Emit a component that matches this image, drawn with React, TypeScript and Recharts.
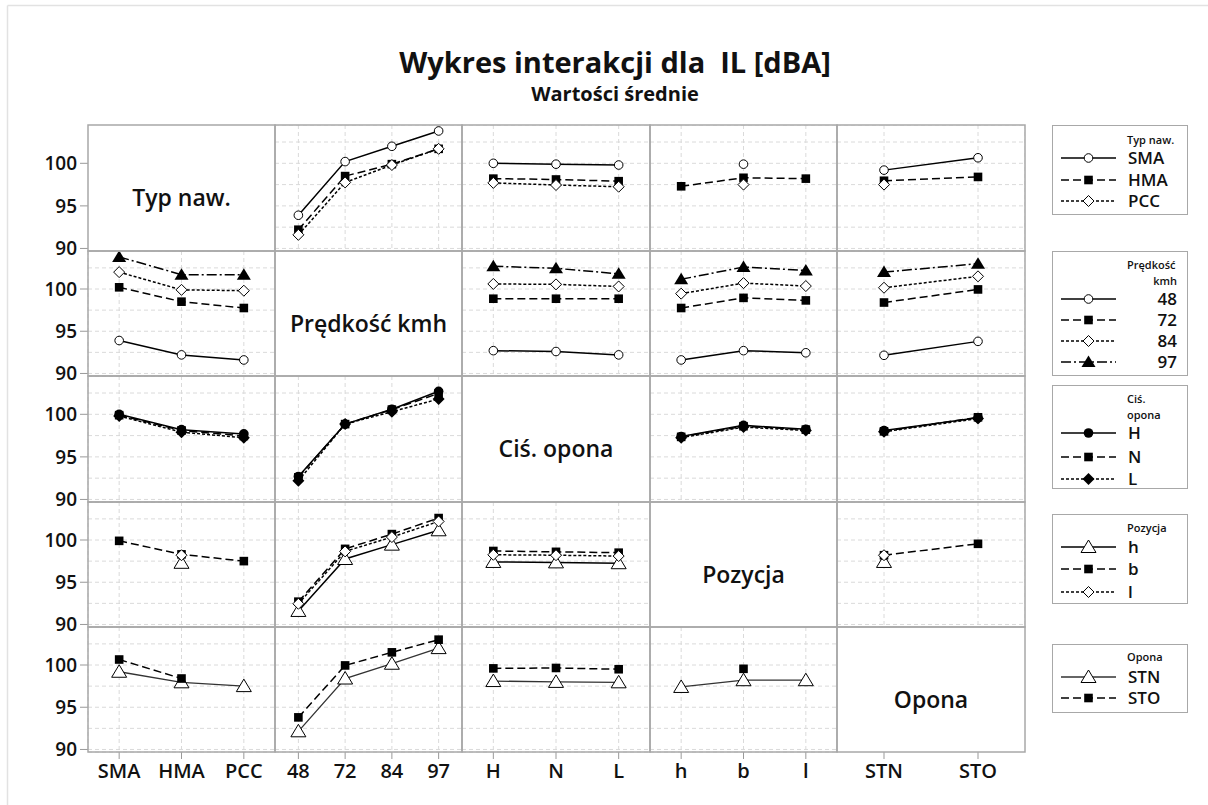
import React from 'react';
import { LineChart, Line, XAxis, YAxis, CartesianGrid } from 'recharts';

// ---------- factors ----------
const typLevels = ['SMA', 'HMA', 'PCC'];
const speedLevels = ['48', '72', '84', '97'];
const cisLevels = ['H', 'N', 'L'];
const pozLevels = ['h', 'b', 'l'];
const oponaLevels = ['STN', 'STO'];
const factorLevels = [typLevels, speedLevels, cisLevels, pozLevels, oponaLevels];
const factorNames = ['Typ naw.', 'Prędkość kmh', 'Ciś. opona', 'Pozycja', 'Opona'];
const legendTitleLines = [['Typ naw.'], ['Prędkość', 'kmh'], ['Ciś.', 'opona'], ['Pozycja'], ['Opona']];

const yTickValues = [90, 92.5, 95, 97.5, 100, 102.5];
const yDomain = [89.7, 104.5];

// ---------- cell means (rows: first factor levels, cols: second factor levels) ----------
const meanTypSpeed = [
  [93.9, 100.2, 102.0, 103.8],
  [92.2, 98.5, 99.9, 101.7],
  [91.6, 97.75, 99.8, 101.7],
];
const meanTypCis = [
  [100.0, 99.9, 99.8],
  [98.2, 98.1, 97.9],
  [97.7, 97.45, 97.25],
];
const meanTypPoz = [
  [null, 99.9, null],
  [97.3, 98.3, 98.2],
  [null, 97.5, null],
];
const meanTypOpona = [
  [99.2, 100.65],
  [97.95, 98.4],
  [97.5, null],
];
const meanSpeedCis = [
  [92.7, 92.6, 92.2],
  [98.85, 98.85, 98.85],
  [100.6, 100.55, 100.3],
  [102.7, 102.45, 101.8],
];
const meanSpeedPoz = [
  [91.6, 92.7, 92.45],
  [97.75, 98.95, 98.65],
  [99.45, 100.7, 100.35],
  [101.15, 102.6, 102.2],
];
const meanSpeedOpona = [
  [92.15, 93.8],
  [98.4, 99.95],
  [100.15, 101.5],
  [102.0, 103.0],
];
const meanCisPoz = [
  [97.4, 98.7, 98.25],
  [97.35, 98.6, 98.2],
  [97.25, 98.5, 98.1],
];
const meanCisOpona = [
  [98.1, 99.6],
  [98.0, 99.65],
  [97.95, 99.5],
];
const meanPozOpona = [
  [97.4, null],
  [98.2, 99.55],
  [98.2, null],
];

const pairTable: Record<string, (number | null)[][]> = {
  '0-1': meanTypSpeed,
  '0-2': meanTypCis,
  '0-3': meanTypPoz,
  '0-4': meanTypOpona,
  '1-2': meanSpeedCis,
  '1-3': meanSpeedPoz,
  '1-4': meanSpeedOpona,
  '2-3': meanCisPoz,
  '2-4': meanCisOpona,
  '3-4': meanPozOpona,
};

function cellMeans(rowF: number, colF: number): (number | null)[][] {
  if (rowF < colF) return pairTable[`${rowF}-${colF}`];
  const m = pairTable[`${colF}-${rowF}`];
  return factorLevels[rowF].map((_, i) => factorLevels[colF].map((__, j) => m[j][i]));
}

// ---------- styles ----------
const FONT = "'Open Sans', 'Noto Sans', sans-serif";
const colEdges = [88, 275, 462, 650, 837, 1025];
const rowEdges = [125, 251, 376, 502, 627, 752];
const factorMarkers = [
  ['circleOpen', 'square', 'diamondOpen'],
  ['circleOpen', 'square', 'diamondOpen', 'triangleFilled'],
  ['circleFilled', 'square', 'diamondFilled'],
  ['triangleOpen', 'square', 'diamondOpen'],
  ['triangleOpen', 'square'],
];
const dashes = [undefined, '8 4', '3 2', '10 3 2 3'];

function Marker({ kind, cx, cy }: { kind: string; cx: number; cy: number }) {
  switch (kind) {
    case 'circleOpen':
      return <circle cx={cx} cy={cy} r={4.3} fill="#fff" stroke="#000" strokeWidth={1} />;
    case 'circleFilled':
      return <circle cx={cx} cy={cy} r={4.8} fill="#000" />;
    case 'square':
      return <rect x={cx - 4.3} y={cy - 4.3} width={8.6} height={8.6} fill="#000" />;
    case 'diamondOpen':
      return (
        <polygon
          points={`${cx},${cy - 5.5} ${cx + 5.5},${cy} ${cx},${cy + 5.5} ${cx - 5.5},${cy}`}
          fill="#fff"
          stroke="#000"
          strokeWidth={1}
        />
      );
    case 'diamondFilled':
      return <polygon points={`${cx},${cy - 6} ${cx + 6},${cy} ${cx},${cy + 6} ${cx - 6},${cy}`} fill="#000" />;
    case 'triangleFilled':
      return <polygon points={`${cx},${cy - 6.5} ${cx + 7},${cy + 5} ${cx - 7},${cy + 5}`} fill="#000" />;
    case 'triangleOpen':
      return (
        <polygon
          points={`${cx},${cy - 7} ${cx + 7.5},${cy + 5.5} ${cx - 7.5},${cy + 5.5}`}
          fill="#fff"
          stroke="#000"
          strokeWidth={1}
        />
      );
    default:
      return null;
  }
}

const YTick = (props: any) => {
  const { x, y, payload } = props;
  const v = payload.value;
  if (v % 5 !== 0) return <g />;
  return (
    <g>
      <line x1={x + 3} x2={x + 11} y1={y} y2={y} stroke="#999" strokeWidth={1} />
      <text x={x} y={y} dy="0.36em" textAnchor="end" fontSize={19} fontWeight={600} fill="#111" fontFamily={FONT}>
        {v}
      </text>
    </g>
  );
};

const XTick = (props: any) => {
  const { x, y, payload } = props;
  return (
    <text x={x} y={y + 19} textAnchor="middle" fontSize={20} fontWeight={600} fill="#111" fontFamily={FONT}>
      {payload.value}
    </text>
  );
};

function Panel({ r, c }: { r: number; c: number }) {
  const x0 = colEdges[c];
  const y0 = rowEdges[r];
  const w = colEdges[c + 1] - x0;
  const h = rowEdges[r + 1] - y0;
  const showY = c === 0;
  const showX = r === 4;
  const yW = showY ? 80 : 0;
  const xH = showX ? 45 : 0;
  const extraBottom = showY && !showX ? 14 : 0;
  const diag = r === c;
  const xLevels = factorLevels[c];
  const traceLevels = factorLevels[r];
  const means = diag ? null : cellMeans(r, c);
  const data = xLevels.map((lv, xi) => {
    const row: Record<string, any> = { x: lv };
    if (means) traceLevels.forEach((_, ti) => (row['s' + ti] = means[ti][xi]));
    return row;
  });
  const pad = w / xLevels.length / 2;
  return (
    <div style={{ position: 'absolute', left: x0 - yW, top: y0 }}>
      <LineChart
        width={w + yW}
        height={h + xH + extraBottom}
        data={data}
        margin={{ top: 0, right: 0, bottom: extraBottom, left: 0 }}
      >
        {!diag && <CartesianGrid stroke="#dadada" strokeDasharray="4 3" strokeWidth={1} />}
        <XAxis
          dataKey="x"
          type="category"
          scale="point"
          padding={{ left: pad, right: pad }}
          interval={0}
          hide={!showX}
          height={xH}
          axisLine={false}
          tickLine={{ stroke: '#999' }}
          tickSize={7}
          tickMargin={0}
          tick={<XTick />}
        />
        <YAxis
          type="number"
          domain={yDomain}
          allowDataOverflow
          ticks={yTickValues}
          interval={0}
          hide={!showY}
          width={yW}
          axisLine={false}
          tickLine={false}
          tickSize={0}
          tickMargin={11}
          tick={<YTick />}
        />
        {means &&
          traceLevels.map((_, ti) => {
            const kind = factorMarkers[r][ti];
            const isStn = r === 4 && ti === 0;
            return (
              <Line
                key={'s' + ti}
                dataKey={'s' + ti}
                type="linear"
                stroke={isStn ? '#333' : '#000'}
                strokeWidth={isStn ? 1.3 : 1.5}
                strokeDasharray={dashes[ti]}
                connectNulls={false}
                isAnimationActive={false}
                activeDot={false}
                dot={(p: any) => {
                  if (p.cy == null || p.value == null || Number.isNaN(p.cy))
                    return <g key={`d${ti}-${p.index}`} />;
                  return (
                    <g key={`d${ti}-${p.index}`}>
                      <Marker kind={kind} cx={p.cx} cy={p.cy} />
                    </g>
                  );
                }}
              />
            );
          })}
      </LineChart>
    </div>
  );
}

// ---------- legends ----------
const legendBoxes = [
  { top: 125, bottom: 214, titleY: [140], entryY: [158, 180, 201] },
  { top: 251, bottom: 375, titleY: [265, 281], entryY: [299, 320, 341, 362] },
  { top: 385, bottom: 488, titleY: [399, 415], entryY: [433, 457, 479] },
  { top: 514, bottom: 603, titleY: [528], entryY: [547, 569, 592] },
  { top: 644, bottom: 712, titleY: [657], entryY: [677, 698] },
];

function Legend({ f }: { f: number }) {
  const b = legendBoxes[f];
  const rightAlign = f === 1;
  return (
    <g>
      <rect x={1052.5} y={b.top + 0.5} width={135} height={b.bottom - b.top} fill="none" stroke="#a8a8a8" strokeWidth={1} />
      {legendTitleLines[f].map((t, i) => (
        <text
          key={t}
          x={f === 1 && i === 1 ? 1177 : 1127}
          y={b.titleY[i]}
          dy="0.35em"
          textAnchor={f === 1 && i === 1 ? 'end' : 'start'}
          fontSize={11}
          fontWeight={600}
          fill="#111"
          fontFamily={FONT}
        >
          {t}
        </text>
      ))}
      {factorLevels[f].map((lv, i) => {
        const y = b.entryY[i];
        return (
          <g key={lv}>
            <line
              x1={1061}
              x2={1116}
              y1={y}
              y2={y}
              stroke={f === 4 && i === 0 ? '#333' : '#000'}
              strokeWidth={1.5}
              strokeDasharray={dashes[i]}
            />
            <Marker kind={factorMarkers[f][i]} cx={1088.5} cy={y} />
            <text
              x={rightAlign ? 1177 : 1128}
              y={y}
              dy="0.36em"
              textAnchor={rightAlign ? 'end' : 'start'}
              fontSize={17}
              fontWeight={600}
              fill="#111"
              fontFamily={FONT}
            >
              {lv}
            </text>
          </g>
        );
      })}
    </g>
  );
}

export default function App() {
  const panels: JSX.Element[] = [];
  for (let r = 0; r < 5; r++) for (let c = 0; c < 5; c++) panels.push(<Panel key={`${r}-${c}`} r={r} c={c} />);
  return (
    <div
      style={{
        position: 'absolute',
        left: 0,
        top: 0,
        width: 1208,
        height: 805,
        background: '#fff',
        overflow: 'hidden',
        fontFamily: FONT,
      }}
    >
      {panels}
      <svg
        width={1208}
        height={805}
        style={{ position: 'absolute', left: 0, top: 0, pointerEvents: 'none' }}
      >
        <line x1={7.5} y1={5.5} x2={1208} y2={5.5} stroke="#e2e2e2" strokeWidth={1.5} />
        <line x1={7.5} y1={5.5} x2={7.5} y2={805} stroke="#e2e2e2" strokeWidth={1.5} />
        <text x={615} y={73} textAnchor="middle" fontSize={29} fontWeight={700} fill="#111" fontFamily={FONT}>
          {'Wykres interakcji dla\u00a0 IL [dBA]'}
        </text>
        <text x={615} y={101} textAnchor="middle" fontSize={20} fontWeight={700} fill="#111" fontFamily={FONT}>
          Wartości średnie
        </text>
        {rowEdges.slice(0, 5).map((y0, r) =>
          colEdges.slice(0, 5).map((x0, c) => (
            <rect
              key={`b${r}-${c}`}
              x={x0}
              y={y0}
              width={colEdges[c + 1] - x0}
              height={rowEdges[r + 1] - y0}
              fill="none"
              stroke="#a8a8a8"
              strokeWidth={1.5}
            />
          ))
        )}
        {factorNames.map((n, i) => (
          <text
            key={n}
            x={(colEdges[i] + colEdges[i + 1]) / 2}
            y={(rowEdges[i] + rowEdges[i + 1]) / 2 + 10}
            dy="0.35em"
            textAnchor="middle"
            fontSize={23}
            fontWeight={600}
            fill="#111"
            fontFamily={FONT}
          >
            {n}
          </text>
        ))}
        {[0, 1, 2, 3, 4].map((f) => (
          <Legend key={f} f={f} />
        ))}
      </svg>
    </div>
  );
}
